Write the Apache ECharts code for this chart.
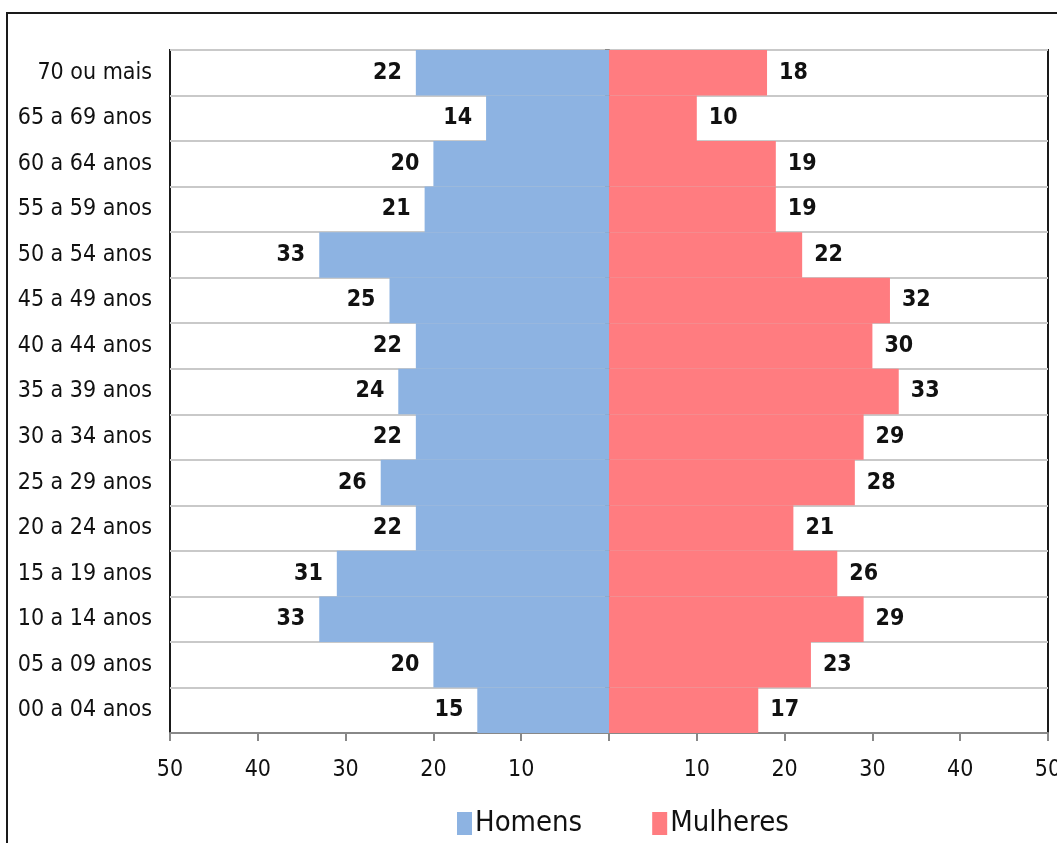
<!DOCTYPE html>
<html lang="pt">
<head>
    <meta charset="UTF-8">
    <title>Pirâmide etária</title>
    <style>
        html, body { margin: 0; padding: 0; background: #fff; }
        #main { width: 1057px; height: 843px; }
    </style>
</head>
<body>
<div id="main"></div>
<script src="https://cdn.jsdelivr.net/npm/echarts@6/dist/echarts.min.js"></script>
<script>
    // faixas etárias, de baixo para cima
    var faixas = ['00 a 04 anos', '05 a 09 anos', '10 a 14 anos', '15 a 19 anos', '20 a 24 anos',
        '25 a 29 anos', '30 a 34 anos', '35 a 39 anos', '40 a 44 anos', '45 a 49 anos',
        '50 a 54 anos', '55 a 59 anos', '60 a 64 anos', '65 a 69 anos', '70 ou mais'];
    var homens = [15, 20, 33, 31, 22, 26, 22, 24, 22, 25, 33, 21, 20, 14, 22];
    var mulheres = [17, 23, 29, 26, 21, 28, 29, 33, 30, 32, 22, 19, 19, 10, 18];

    var fonte = "'Liberation Sans Narrow', 'DejaVu Sans Condensed', 'Arial Narrow', sans-serif";
    var azul = '#8DB3E2';
    var vermelho = '#FF7C80';

    var myChart = echarts.init(document.getElementById('main'));
    var option = {
        animation: false,
        backgroundColor: '#fff',
        textStyle: { fontFamily: fonte },
        graphic: [{
            type: 'rect',
            shape: { x: 7, y: 13, width: 1100, height: 900 },
            style: { fill: 'none', stroke: '#1a1a1a', lineWidth: 2 },
            silent: true
        }],
        grid: {
            left: 170, right: 9, top: 50, bottom: 110,
            outerBoundsMode: 'none', containLabel: false,
            show: true, backgroundColor: '#fff',
            borderColor: '#1a1a1a', borderWidth: 2
        },
        legend: {
            bottom: 0, left: 452,
            itemWidth: 15, itemHeight: 23, itemGap: 70,
            icon: 'rect',
            textStyle: { fontSize: 29, color: '#111', fontFamily: fonte, padding: [0, 0, 0, -2] },
            data: ['Homens', 'Mulheres']
        },
        xAxis: {
            type: 'value', min: -50, max: 50, interval: 10,
            axisLine: { show: true, lineStyle: { color: '#888', width: 2 } },
            axisTick: { show: true, length: 8, lineStyle: { color: '#888', width: 2 } },
            splitLine: { show: false },
            axisLabel: {
                margin: 26, fontSize: 23, color: '#111', fontFamily: fonte,
                formatter: function (v) { return v === 0 ? '' : String(Math.abs(v)); }
            }
        },
        yAxis: [{
            type: 'category', data: faixas, position: 'left',
            axisLine: { show: false, onZero: false },
            axisTick: { show: false },
            splitLine: { show: true, lineStyle: { color: '#c9c9c9', width: 2 } },
            axisLabel: { fontSize: 23, color: '#111', margin: 18, fontFamily: fonte }
        }, {
            type: 'category', data: faixas, position: 'left',
            axisLine: { show: true, onZero: true, lineStyle: { color: '#888', width: 2 } },
            axisTick: { show: true, length: 4, lineStyle: { color: '#888', width: 2 } },
            axisLabel: { show: false },
            splitLine: { show: false }
        }],
        series: [{
            name: 'Homens', type: 'bar', stack: 'pop',
            barCategoryGap: 0,
            itemStyle: { color: azul },
            label: {
                show: true, position: 'left', distance: 14,
                fontSize: 23, fontWeight: 'bold', color: '#111', fontFamily: fonte,
                formatter: function (p) { return Math.abs(p.value); }
            },
            data: homens.map(function (v) { return -v; })
        }, {
            name: 'Mulheres', type: 'bar', stack: 'pop',
            barCategoryGap: 0,
            itemStyle: { color: vermelho },
            label: {
                show: true, position: 'right', distance: 12,
                fontSize: 23, fontWeight: 'bold', color: '#111', fontFamily: fonte
            },
            data: mulheres
        }]
    };
    myChart.setOption(option);
</script>
</body>
</html>
